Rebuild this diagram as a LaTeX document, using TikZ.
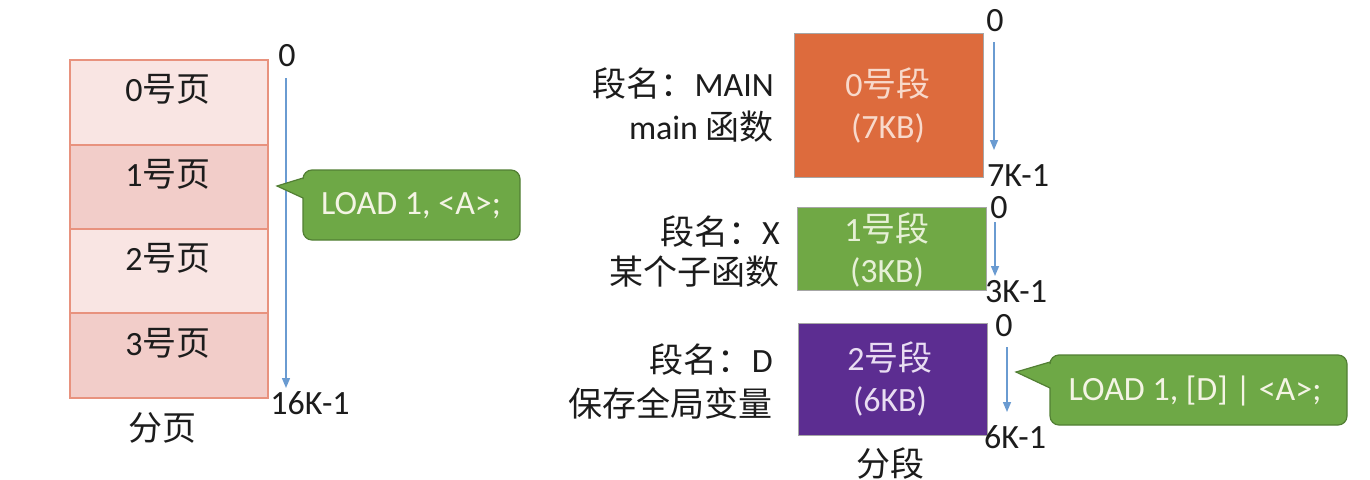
\documentclass[tikz,border=0pt]{standalone}
\usepackage{fontspec}
\setmainfont{Carlito}
\newfontfamily\zh{Noto Sans CJK SC}
\usetikzlibrary{arrows.meta}
\definecolor{txt}{HTML}{1C1C1C}
\definecolor{pglight}{HTML}{F9E5E3}
\definecolor{pgdark}{HTML}{F2CDC9}
\definecolor{pgborder}{HTML}{E8927E}
\definecolor{segA}{HTML}{DD6B3D}
\definecolor{segAtxt}{HTML}{F8D9CB}
\definecolor{segB}{HTML}{70A845}
\definecolor{segBtxt}{HTML}{E6F0D6}
\definecolor{segC}{HTML}{5C2D91}
\definecolor{segCtxt}{HTML}{E9DDF2}
\definecolor{callfill}{HTML}{6EA846}
\definecolor{callborder}{HTML}{527F34}
\definecolor{calltxt}{HTML}{F4F4E4}
\definecolor{arr}{HTML}{6A9BD1}
\tikzset{
  lbl/.style={inner sep=0pt, text=txt, font=\fontsize{34}{38}\selectfont},
  pagebox/.style={draw=pgborder, line width=1.2pt},
  segbox/.style={draw=black!35, line width=0.8pt},
  addr/.style={draw=arr, line width=1.4pt, -{Triangle[length=10pt,width=8pt]}},
  callbox/.style={fill=callfill, draw=callborder, line width=1.2pt},
}
\begin{document}
\begin{tikzpicture}[x=1pt,y=-1pt]
\useasboundingbox[fill=white] (0,0) rectangle (1370,479);
% ---- paging ----
\path[pagebox, fill=pglight] (70,60) rectangle (268,145);
\path[pagebox, fill=pgdark] (70,145) rectangle (268,229);
\path[pagebox, fill=pglight] (70,229) rectangle (268,313);
\path[pagebox, fill=pgdark] (70,313) rectangle (268,398);
\node[lbl] (p0) at (168,89) {0{\zh 号页}};
\node[lbl] (p1) at (168,174) {1{\zh 号页}};
\node[lbl] (p2) at (168,258) {2{\zh 号页}};
\node[lbl] (p3) at (168,343) {3{\zh 号页}};
\node[lbl] (fy) at (162,428) {\zh 分页};
\node[lbl] (pz) at (287,56) {0};
\node[lbl] (pe) at (310,403) {16K-1};
\coordinate (pa1) at (286,78);
\coordinate (pa2) at (286,388);
\draw[addr] (pa1) -- (pa2);
% callout 1
\path[callbox] (303,178) -- (277,186) -- (303,198)
  [rounded corners=9pt] -- (303,240) -- (520,240) -- (520,170) -- (303,170) [sharp corners] -- cycle;
\node[lbl, text=calltxt] (c1) at (411,206) {LOAD 1, <A>;};
% ---- segmentation ----
\path[segbox, fill=segA] (794,33) rectangle (983,177);
\node[lbl, text=segAtxt] (s0a) at (888,84) {0{\zh 号段}};
\node[lbl, text=segAtxt] (s0b) at (888,128) {(7KB)};
\node[lbl, anchor=east] (n0a) at (774,84) {{\zh 段名：}MAIN};
\node[lbl, anchor=east] (n0b) at (774,127) {main {\zh 函数}};
\node[lbl] (z0) at (995,21) {0};
\node[lbl] (e0) at (1018,176) {7K-1};
\coordinate (a0s) at (994,42);
\coordinate (a0e) at (994,150);
\draw[addr] (a0s) -- (a0e);

\path[segbox, fill=segB] (797,207) rectangle (986,290);
\node[lbl, text=segBtxt] (s1a) at (887,229) {1{\zh 号段}};
\node[lbl, text=segBtxt] (s1b) at (887,272) {(3KB)};
\node[lbl, anchor=east] (n1a) at (780,232) {{\zh 段名：}X};
\node[lbl, anchor=east] (n1b) at (780,272) {\zh 某个子函数};
\node[lbl] (z1) at (999,208) {0};
\node[lbl] (e1) at (1016,292) {3K-1};
\coordinate (a1s) at (995,222);
\coordinate (a1e) at (995,276);
\draw[addr] (a1s) -- (a1e);

\path[segbox, fill=segC] (798,323) rectangle (987,435);
\node[lbl, text=segCtxt] (s2a) at (890,358) {2{\zh 号段}};
\node[lbl, text=segCtxt] (s2b) at (890,401) {(6KB)};
\node[lbl, anchor=east] (n2a) at (773,360) {{\zh 段名：}D};
\node[lbl, anchor=east] (n2b) at (773,403) {\zh 保存全局变量};
\node[lbl] (z2) at (1004,326) {0};
\node[lbl] (e2) at (1015,437) {6K-1};
\coordinate (a2s) at (1007,347);
\coordinate (a2e) at (1007,412);
\draw[addr] (a2s) -- (a2e);
\node[lbl] (fd) at (890,464) {\zh 分段};
% callout 2
\path[callbox] (1050,362) -- (1016,372) -- (1050,388)
  [rounded corners=9pt] -- (1050,425) -- (1347,425) -- (1347,355) -- (1050,355) [sharp corners] -- cycle;
\node[lbl, text=calltxt] (c2) at (1195,391) {LOAD 1, [D] | <A>;};
\end{tikzpicture}
\end{document}
